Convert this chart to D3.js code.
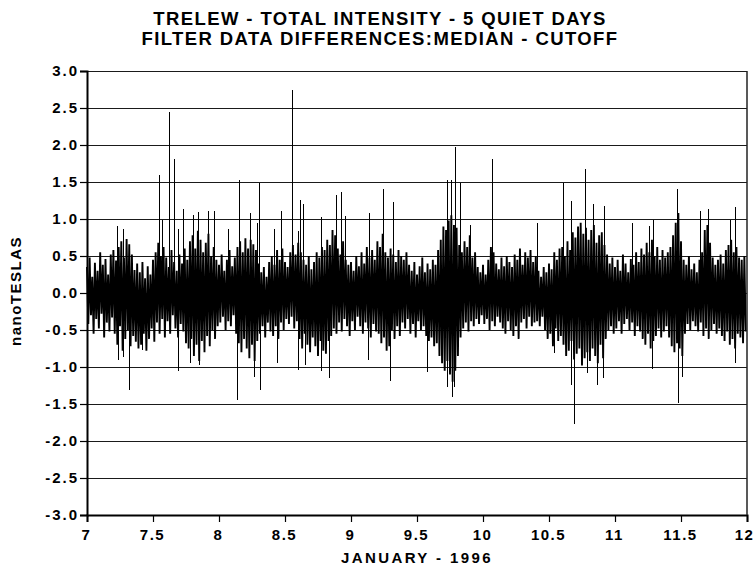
<!DOCTYPE html>
<html>
<head>
<meta charset="utf-8">
<title>Trelew - Total Intensity - 5 Quiet Days</title>
<script src="https://cdn.jsdelivr.net/npm/d3@7"></script>
<style>
  html, body { margin: 0; padding: 0; background: #fff; }
  svg { display: block; }
  text { font-family: "Liberation Sans", Arial, Helvetica, sans-serif; font-weight: bold; fill: #000; }
</style>
</head>
<body>
<div id="chart"></div>
<script>
// Chart data.
const titleLines = ['TRELEW - TOTAL INTENSITY - 5 QUIET DAYS', 'FILTER DATA DIFFERENCES:MEDIAN - CUTOFF'];
const xLabel = 'JANUARY - 1996';
const yLabel = 'nanoTESLAS';

const xTicks = [7, 7.5, 8, 8.5, 9, 9.5, 10, 10.5, 11, 11.5, 12];
const yTicks = [-3, -2.5, -2, -1.5, -1, -0.5, 0, 0.5, 1, 1.5, 2, 2.5, 3];

// Envelope of the dense trace: one bin every 0.02 day from day 7.00
const binStart = 7;
const binDays = 0.02;

// Upper excursion of each bin (nT)
const binHigh = [
  0.35, 0.48, 0.22, 0.41, 0.30, 0.55, 0.38, 0.46, 0.25, 0.52,
  0.58, 0.44, 0.62, 0.70, 0.48, 0.73, 0.66, 0.52, 0.31, 0.40,
  0.28, 0.42, 0.20, 0.36, 0.25, 0.45, 0.55, 0.68, 0.50, 0.62,
  0.48, 0.35, 0.58, 0.42, 0.30, 0.52, 0.40, 0.60, 0.45, 0.70,
  0.78, 0.60, 0.84, 0.72, 0.55, 0.68, 0.80, 0.50, 0.62, 0.45,
  0.38, 0.52, 0.30, 0.45, 0.58, 0.36, 0.48, 0.62, 0.70, 0.55,
  0.74, 0.60, 0.72, 0.66, 0.58, 0.40, 0.28, 0.35, 0.22, 0.42,
  0.50, 0.38, 0.58, 0.45, 0.60, 0.42, 0.35, 0.55, 0.65, 0.52,
  0.68, 0.55, 0.45, 0.38, 0.50, 0.32, 0.42, 0.55, 0.48, 0.62,
  0.58, 0.72, 0.65, 0.85, 0.78, 0.60, 0.52, 0.70, 0.45, 0.38,
  0.42, 0.30, 0.50, 0.36, 0.55, 0.40, 0.62, 0.48, 0.58, 0.45,
  0.70, 0.62, 0.80, 0.55, 0.48, 0.60, 0.52, 0.42, 0.58, 0.50,
  0.45, 0.55, 0.38, 0.30, 0.42, 0.25, 0.36, 0.48, 0.28, 0.40,
  0.32, 0.45, 0.38, 0.58, 0.72, 0.90, 0.85, 0.98, 1.05, 0.92,
  0.88, 0.65, 0.55, 0.70, 0.62, 0.78, 0.48, 0.55, 0.35, 0.28,
  0.38, 0.25, 0.45, 0.62, 0.55, 0.40, 0.32, 0.48, 0.36, 0.50,
  0.42, 0.35, 0.52, 0.45, 0.60, 0.38, 0.55, 0.48, 0.58, 0.42,
  0.50, 0.30, 0.22, 0.35, 0.28, 0.40, 0.32, 0.55, 0.45, 0.60,
  0.62, 0.50, 0.70, 0.58, 0.82, 0.75, 0.90, 0.95, 0.80, 0.88,
  0.72, 0.85, 0.92, 0.68, 0.78, 0.82, 0.65, 0.52, 0.40, 0.48,
  0.35, 0.45, 0.30, 0.52, 0.40, 0.28, 0.46, 0.38, 0.55, 0.42,
  0.60, 0.52, 0.68, 0.55, 0.72, 0.50, 0.62, 0.45, 0.58, 0.48,
  0.55, 0.62, 0.78, 0.95, 1.08, 0.70, 0.45, 0.38, 0.50, 0.32,
  0.40, 0.28, 0.45, 0.55, 0.85, 0.92, 0.68, 0.48, 0.38, 0.45,
  0.52, 0.40, 0.58, 0.65, 0.72, 0.55, 0.62, 0.48, 0.45, 0.50
];

// Lower excursion of each bin (nT)
const binLow = [
  -0.42, -0.30, -0.55, -0.35, -0.48, -0.28, -0.60, -0.40, -0.52, -0.33,
  -0.55, -0.70, -0.45, -0.78, -0.62, -0.50, -0.72, -0.58, -0.66, -0.75,
  -0.70, -0.55, -0.78, -0.62, -0.48, -0.66, -0.40, -0.55, -0.35, -0.60,
  -0.38, -0.55, -0.30, -0.48, -0.60, -0.42, -0.52, -0.68, -0.75, -0.62,
  -0.85, -0.70, -0.92, -0.65, -0.80, -0.58, -0.72, -0.50, -0.62, -0.45,
  -0.40, -0.32, -0.50, -0.38, -0.45, -0.30, -0.55, -0.68, -0.80, -0.62,
  -0.75, -0.88, -0.70, -0.92, -0.65, -0.55, -0.45, -0.60, -0.40, -0.52,
  -0.58, -0.45, -0.62, -0.40, -0.50, -0.35, -0.42, -0.32, -0.48, -0.38,
  -0.62, -0.75, -0.55, -0.70, -0.80, -0.60, -0.72, -0.85, -0.65, -0.78,
  -0.82, -0.65, -0.58, -0.48, -0.55, -0.40, -0.52, -0.35, -0.45, -0.58,
  -0.38, -0.50, -0.32, -0.45, -0.55, -0.40, -0.48, -0.60, -0.42, -0.52,
  -0.55, -0.68, -0.60, -0.78, -0.72, -0.50, -0.62, -0.45, -0.58, -0.40,
  -0.48, -0.35, -0.55, -0.42, -0.60, -0.38, -0.50, -0.45, -0.58, -0.65,
  -0.60, -0.72, -0.68, -0.85, -0.95, -1.05, -0.92, -1.10, -1.20, -1.05,
  -0.85, -0.60, -0.48, -0.40, -0.52, -0.38, -0.45, -0.35, -0.42, -0.30,
  -0.42, -0.35, -0.50, -0.38, -0.45, -0.32, -0.40, -0.48, -0.55, -0.38,
  -0.50, -0.58, -0.45, -0.62, -0.40, -0.35, -0.48, -0.32, -0.45, -0.40,
  -0.38, -0.45, -0.32, -0.50, -0.62, -0.55, -0.72, -0.48, -0.65, -0.58,
  -0.70, -0.85, -0.78, -0.65, -0.90, -0.82, -0.75, -0.98, -0.88, -0.80,
  -0.92, -0.75, -0.85, -0.95, -0.70, -0.88, -0.62, -0.50, -0.45, -0.55,
  -0.48, -0.38, -0.55, -0.42, -0.35, -0.50, -0.40, -0.58, -0.45, -0.52,
  -0.62, -0.70, -0.55, -0.75, -0.65, -0.58, -0.48, -0.60, -0.52, -0.45,
  -0.60, -0.72, -0.80, -0.68, -0.75, -0.85, -0.55, -0.42, -0.50, -0.38,
  -0.45, -0.52, -0.40, -0.58, -0.48, -0.62, -0.50, -0.42, -0.55, -0.48,
  -0.58, -0.65, -0.52, -0.70, -0.62, -0.75, -0.55, -0.60, -0.68, -0.52
];

// Isolated spikes that stand out of the band
const spikeDay = [
  7.23, 7.27, 7.543, 7.571, 7.621, 7.662, 7.69, 7.73, 7.80, 7.84,
  7.92, 7.96, 8.07, 8.152, 8.235, 8.29, 8.30, 8.42, 8.47, 8.556,
  8.60, 8.61, 8.64, 8.77, 8.886, 8.924, 8.955, 9.134, 9.245, 9.316,
  9.725, 9.755, 9.786, 9.826, 9.90, 10.066, 10.406, 10.606, 10.664, 10.775,
  10.836, 10.914, 11.126, 11.26, 11.288, 11.467, 11.646, 11.707, 11.869, 11.91,
  7.232, 7.272, 7.32, 7.42, 7.692, 7.78, 7.85, 8.14, 8.265, 8.31,
  8.44, 8.602, 8.65, 8.772, 8.83, 9.13, 9.295, 9.573, 9.727, 9.765,
  9.783, 10.54, 10.666, 10.687, 10.79, 10.86, 10.906, 11.28, 11.477, 11.507,
  11.911
];
const spikeNT = [
  0.91, 0.86, 1.59, 0.99, 2.45, 1.81, 0.86, 1.14, 1.06, 1.09,
  1.11, 1.11, 0.87, 1.53, 1.08, 0.95, 1.49, 0.86, 1.11, 2.75,
  0.84, 1.26, 1.20, 1.03, 1.32, 1.36, 1.04, 1.08, 1.40, 1.23,
  1.53, 1.53, 1.97, 1.49, 0.92, 1.81, 0.95, 1.49, 1.25, 1.68,
  1.20, 1.18, 0.95, 0.91, 0.99, 1.41, 1.11, 1.14, 0.99, 1.16,
  -0.90, -0.86, -1.31, -0.77, -1.06, -0.95, -0.97, -1.44, -1.13, -1.31,
  -0.94, -1.04, -0.97, -1.06, -1.15, -0.90, -1.19, -1.07, -1.27, -1.40,
  -1.27, -0.81, -1.24, -1.77, -1.08, -1.24, -1.15, -1.03, -1.48, -1.13,
  -0.95
];

// Layout
const totalWidth = 755;
const totalHeight = 568;
const margin = { top: 71, right: 8, bottom: 53, left: 87 };
const width = totalWidth - margin.left - margin.right;
const height = totalHeight - margin.top - margin.bottom;

const svg = d3.select('#chart')
  .append('svg')
  .attr('width', totalWidth)
  .attr('height', totalHeight);

const g = svg.append('g')
  .attr('transform', `translate(${margin.left},${margin.top})`);

const x = d3.scaleLinear().domain([7, 12]).range([0, width]);
const y = d3.scaleLinear().domain([-3, 3]).range([height, 0]);

// Horizontal grid lines at every tick
g.append('g')
  .attr('class', 'grid')
  .selectAll('line')
  .data(yTicks)
  .join('line')
  .attr('x1', 0)
  .attr('x2', width)
  .attr('y1', d => Math.round(y(d)) + 0.5)
  .attr('y2', d => Math.round(y(d)) + 0.5)
  .attr('stroke', '#1a1a1a')
  .attr('stroke-width', 1.2);

// Dense trace: alternate between the bin high and low
const trace = [];
binHigh.forEach((hi, i) => {
  const t0 = binStart + i * binDays;
  trace.push({ day: t0, nt: hi });
  trace.push({ day: t0 + binDays / 2, nt: binLow[i] });
});

const line = d3.line()
  .x(d => x(d.day))
  .y(d => y(d.nt));

g.append('path')
  .datum(trace)
  .attr('fill', 'none')
  .attr('stroke', '#000')
  .attr('stroke-width', 1.9)
  .attr('stroke-linejoin', 'bevel')
  .attr('d', line);

// Spikes
g.append('g')
  .attr('class', 'spikes')
  .selectAll('line')
  .data(spikeDay.map((d, i) => ({ day: d, nt: spikeNT[i] })))
  .join('line')
  .attr('x1', d => Math.round(x(d.day)) + 0.5)
  .attr('x2', d => Math.round(x(d.day)) + 0.5)
  .attr('y1', y(0))
  .attr('y2', d => y(d.nt))
  .attr('stroke', '#000')
  .attr('stroke-width', 1)
  .attr('shape-rendering', 'crispEdges');

// Axes
const yAxis = d3.axisLeft(y)
  .tickValues(yTicks)
  .tickSize(7)
  .tickPadding(3)
  .tickFormat(d => d.toFixed(1));

const xAxis = d3.axisBottom(x)
  .tickValues(xTicks)
  .tickSize(7)
  .tickPadding(4)
  .tickFormat(d => String(d));

const yAxisG = g.append('g').call(yAxis);
const xAxisG = g.append('g')
  .attr('transform', `translate(0,${height})`)
  .call(xAxis);

[yAxisG, xAxisG].forEach(axisG => {
  axisG.select('.domain')
    .attr('stroke', '#000')
    .attr('stroke-width', 2);
  axisG.selectAll('.tick line')
    .attr('stroke', '#000')
    .attr('stroke-width', 1.2);
  axisG.selectAll('text')
    .attr('font-size', 15)
    .attr('letter-spacing', 2)
    .attr('font-family', '"Liberation Sans", Arial, sans-serif')
    .attr('font-weight', 'bold')
    .attr('fill', '#000');
});
yAxisG.selectAll('text').attr('dx', 2);
xAxisG.selectAll('text')
  .attr('letter-spacing', 1.5)
  .attr('dy', '0.95em')
  .attr('dx', -1);
// keep the last label inside the window, as in the reference
xAxisG.selectAll('text')
  .filter(d => d === 12)
  .attr('dx', -3);

// Right border of the plot frame
g.append('line')
  .attr('x1', width)
  .attr('x2', width)
  .attr('y1', 0)
  .attr('y2', height)
  .attr('stroke', '#222')
  .attr('stroke-width', 1.5);

// Titles
svg.append('g')
  .selectAll('text')
  .data(titleLines)
  .join('text')
  .attr('x', 380)
  .attr('y', (d, i) => 25 + i * 19.5)
  .attr('text-anchor', 'middle')
  .attr('font-size', 18.5)
  .attr('letter-spacing', 1.4)
  .text(d => d);

// Axis labels
svg.append('text')
  .attr('x', 417)
  .attr('y', 563)
  .attr('text-anchor', 'middle')
  .attr('font-size', 15)
  .attr('letter-spacing', 2.4)
  .text(xLabel);

svg.append('text')
  .attr('transform', `translate(21, ${margin.top + height / 2 - 2}) rotate(-90)`)
  .attr('text-anchor', 'middle')
  .attr('font-size', 15)
  .attr('letter-spacing', 1.5)
  .text(yLabel);
</script>
</body>
</html>
